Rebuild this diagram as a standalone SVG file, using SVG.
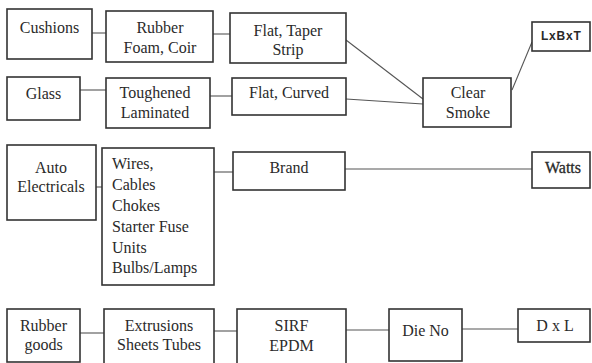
<svg xmlns="http://www.w3.org/2000/svg" width="592" height="363" viewBox="0 0 592 363">
<style>
.box{fill:#fff;stroke:#333;stroke-width:1.6}
.t{font-size:16px;fill:#2a2a2a;text-anchor:middle}
.l{text-anchor:start}
.s{font-family:'Liberation Sans',Arial,sans-serif;font-size:12px;font-weight:bold;fill:#2a2a2a;text-anchor:middle;word-spacing:-2.5px}
.c{stroke:#555;stroke-width:1.1;fill:none}
</style>
<rect width="592" height="363" fill="#fff"/>
<g id="connectors">
<line class="c" x1="92" y1="33" x2="106" y2="33"/>
<line class="c" x1="213" y1="34" x2="230" y2="34"/>
<line class="c" x1="80" y1="90" x2="106" y2="90"/>
<line class="c" x1="210" y1="96" x2="232" y2="96"/>
<line class="c" x1="346" y1="40" x2="423" y2="99"/>
<line class="c" x1="346" y1="99" x2="423" y2="104"/>
<line class="c" x1="512" y1="90" x2="532" y2="42"/>
<line class="c" x1="96" y1="187" x2="102" y2="187"/>
<line class="c" x1="214" y1="172" x2="233" y2="172"/>
<line class="c" x1="345" y1="169" x2="532" y2="169"/>
<line class="c" x1="80" y1="333" x2="104" y2="333"/>
<line class="c" x1="214" y1="331" x2="237" y2="331"/>
<line class="c" x1="346" y1="330" x2="389" y2="330"/>
<line class="c" x1="462" y1="329" x2="518" y2="329"/>
</g>
<g font-family="Liberation Serif, Times New Roman, Times, Tinos, Noto Serif, DejaVu Serif, FreeSerif, serif">
<g id="cushions"><rect class="box" x="7" y="9" width="85" height="50"/><text class="t" x="49.5" y="33">Cushions</text></g>
<g id="rubber-foam"><rect class="box" x="106" y="11" width="107" height="51"/><text class="t" x="160" y="33">Rubber</text><text class="t" x="160" y="53">Foam, Coir</text></g>
<g id="flat-taper"><rect class="box" x="230" y="13" width="116" height="50"/><text class="t" x="288" y="36">Flat, Taper</text><text class="t" x="288" y="55">Strip</text></g>
<g id="glass"><rect class="box" x="7" y="77" width="73" height="43"/><text class="t" x="43.5" y="99">Glass</text></g>
<g id="toughened"><rect class="box" x="106" y="78" width="104" height="50"/><text class="t" x="155" y="98">Toughened</text><text class="t" x="155" y="118">Laminated</text></g>
<g id="flat-curved"><rect class="box" x="232" y="78" width="114" height="37"/><text class="t" x="289" y="98">Flat, Curved</text></g>
<g id="clear-smoke"><rect class="box" x="423" y="78" width="88" height="49"/><text class="t" x="468" y="98">Clear</text><text class="t" x="468" y="118">Smoke</text></g>
<g id="auto-electricals"><rect class="box" x="7" y="145" width="89" height="75"/><text class="t" x="51" y="173">Auto</text><text class="t" x="51" y="192">Electricals</text></g>
<g id="wires"><rect class="box" x="102" y="148" width="112" height="137"/>
<text class="t l" x="112" y="169">Wires,</text>
<text class="t l" x="112" y="190">Cables</text>
<text class="t l" x="112" y="211">Chokes</text>
<text class="t l" x="112" y="232">Starter Fuse</text>
<text class="t l" x="112" y="253">Units</text>
<text class="t l" x="112" y="273">Bulbs/Lamps</text></g>
<g id="brand"><rect class="box" x="233" y="152" width="112" height="38"/><text class="t" x="289" y="173">Brand</text></g>
<g id="watts"><rect class="box" x="532" y="152" width="58" height="36"/><text class="t" x="563" y="173" stroke="#2a2a2a" stroke-width="0.3">Watts</text></g>
<g id="rubber-goods"><rect class="box" x="7" y="309" width="73" height="53"/><text class="t" x="43.5" y="331">Rubber</text><text class="t" x="43.5" y="350">goods</text></g>
<g id="extrusions"><rect class="box" x="104" y="309" width="110" height="56"/><text class="t" x="159" y="331">Extrusions</text><text class="t" x="159" y="350">Sheets Tubes</text></g>
<g id="sirf"><rect class="box" x="237" y="309" width="109" height="56"/><text class="t" x="291.5" y="331">SIRF</text><text class="t" x="291.5" y="351">EPDM</text></g>
<g id="die-no"><rect class="box" x="389" y="309" width="73" height="52"/><text class="t" x="425.5" y="336">Die No</text></g>
<g id="dxl"><rect class="box" x="518" y="309" width="72" height="33"/><text class="t" x="555" y="331">D x L</text></g>
</g>
<g id="lxbxt"><rect class="box" x="532" y="22" width="58" height="29"/><text class="s" x="561" y="40">L x B x T</text></g>
</svg>
